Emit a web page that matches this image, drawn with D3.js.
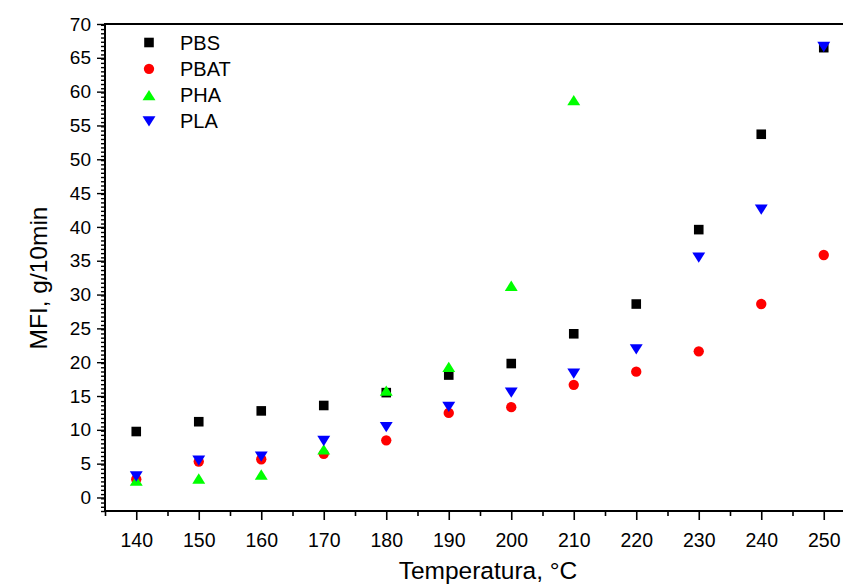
<!DOCTYPE html>
<html>
<head>
<meta charset="utf-8">
<script src="https://cdn.jsdelivr.net/npm/d3@7/dist/d3.min.js"></script>
<style>
  html, body { margin: 0; padding: 0; background: #fff; }
  svg { display: block; font-family: "Liberation Sans", Arial, sans-serif; }
</style>
</head>
<body>
<svg id="chart" width="843" height="586"></svg>
<script>
// Melt flow index vs. temperature for four biopolymers
const temperatures = [140, 150, 160, 170, 180, 190, 200, 210, 220, 230, 240, 250];
const pbs  = [9.75, 11.2, 12.8, 13.6, 15.5, 18.1, 19.8, 24.2, 28.6, 39.6, 53.7, 66.5];
const pbat = [2.7, 5.3, 5.65, 6.45, 8.45, 12.5, 13.35, 16.65, 18.6, 21.6, 28.6, 35.85];
const pha  = [2.5, 2.8, 3.4, 7.1, 15.8, 19.3, 31.3, 58.75];
const pla  = [3.1, 5.45, 6.05, 8.35, 10.4, 13.4, 15.5, 18.3, 21.9, 35.45, 42.55, 66.6];

const xTicks = [140, 150, 160, 170, 180, 190, 200, 210, 220, 230, 240, 250];
const yTicks = [0, 5, 10, 15, 20, 25, 30, 35, 40, 45, 50, 55, 60, 65, 70];

const seriesNames = ["PBS", "PBAT", "PHA", "PLA"];
const seriesColors = ["#000000", "#ff0000", "#00ff00", "#0000ff"];

// Triangles centred on their bounding box
function triangle(up) {
  return {
    draw(ctx, size) {
      const w = Math.sqrt(size) * 1.28, h = w * 0.8;
      const s = up ? 1 : -1;
      ctx.moveTo(0, -s * h / 2);
      ctx.lineTo(w / 2, s * h / 2);
      ctx.lineTo(-w / 2, s * h / 2);
      ctx.closePath();
    }
  };
}
const seriesSymbols = [
  d3.symbol(d3.symbolSquare, 92),
  d3.symbol(d3.symbolCircle, 84),
  d3.symbol(triangle(true), 102),
  d3.symbol(triangle(false), 102)
];

const svg = d3.select("#chart");
const plotLeft = 105, plotTop = 24, plotBottom = 511, plotRight = 855;

const x = d3.scaleLinear().domain([135, 255]).range([plotLeft, plotRight]);
const y = d3.scaleLinear().domain([-2, 70]).range([plotBottom, plotTop]);

// Minor ticks
const xMinor = d3.range(135, 256, 10);
const yMinor = d3.range(-2, 70.01, 0.625).filter(v => Math.abs(v / 5 - Math.round(v / 5)) > 1e-6);

const axisColor = "#000";

// Bottom axis
const gx = svg.append("g").attr("transform", `translate(0,${plotBottom})`);
gx.call(d3.axisBottom(x).tickValues(xMinor).tickSize(5).tickFormat(""))
  .call(g => g.select(".domain").remove());
gx.append("g").call(d3.axisBottom(x).tickValues(xTicks).tickSize(9).tickPadding(13)
    .tickFormat(d3.format("d")))
  .call(g => g.select(".domain").remove())
  .call(g => g.selectAll("text").attr("font-size", 19.5).attr("fill", "#000")
    .attr("font-family", "Liberation Sans, Arial, sans-serif"));
gx.selectAll("line").attr("stroke", axisColor).attr("stroke-width", 1.6);

// Left axis
const gy = svg.append("g").attr("transform", `translate(${plotLeft},0)`);
gy.call(d3.axisLeft(y).tickValues(yMinor).tickSize(4).tickFormat(""))
  .call(g => g.select(".domain").remove());
gy.append("g").call(d3.axisLeft(y).tickValues(yTicks).tickSize(8).tickPadding(6)
    .tickFormat(d3.format("d")))
  .call(g => g.select(".domain").remove())
  .call(g => g.selectAll("text").attr("font-size", 19).attr("fill", "#000")
    .attr("font-family", "Liberation Sans, Arial, sans-serif"));
gy.selectAll("line").attr("stroke", axisColor).attr("stroke-width", 1.4);

// Frame
svg.append("rect")
  .attr("x", plotLeft).attr("y", plotTop)
  .attr("width", plotRight - plotLeft).attr("height", plotBottom - plotTop)
  .attr("fill", "none").attr("stroke", axisColor).attr("stroke-width", 2);

// Markers
const allSeries = [pbs, pbat, pha, pla];
allSeries.forEach((vals, i) => {
  svg.append("g")
    .selectAll("path")
    .data(vals)
    .join("path")
    .attr("transform", (v, j) => `translate(${x(temperatures[j])},${y(v)})`)
    .attr("d", seriesSymbols[i])
    .attr("fill", seriesColors[i]);
});

// Legend
const legend = svg.append("g");
seriesNames.forEach((name, i) => {
  const ly = 42.5 + i * 26.3;
  legend.append("path")
    .attr("transform", `translate(149,${ly})`)
    .attr("d", seriesSymbols[i])
    .attr("fill", seriesColors[i]);
  legend.append("text")
    .attr("x", 180).attr("y", ly + 7)
    .attr("font-size", 20).attr("fill", "#000")
    .text(name);
});

// Axis titles
svg.append("text")
  .attr("x", 488).attr("y", 579)
  .attr("text-anchor", "middle")
  .attr("font-size", 24.5).attr("fill", "#000")
  .text("Temperatura, °C");

svg.append("text")
  .attr("transform", "translate(47,278) rotate(-90)")
  .attr("text-anchor", "middle")
  .attr("font-size", 24.5).attr("fill", "#000")
  .text("MFI, g/10min");
</script>
</body>
</html>
